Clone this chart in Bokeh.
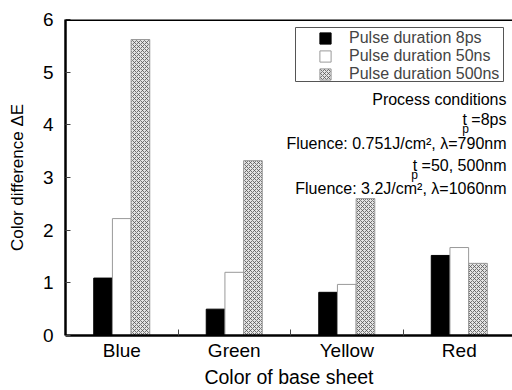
from bokeh.plotting import figure
from bokeh.models import Range1d, FixedTicker, Span, Label, Legend, LegendItem, BoxAnnotation
from bokeh.embed import file_html
from bokeh.resources import INLINE

categories = ["Blue", "Green", "Yellow", "Red"]
series_names = ["Pulse duration 8ps", "Pulse duration 50ns", "Pulse duration 500ns"]
v_8ps = [1.09, 0.50, 0.82, 1.52]
v_50ns = [2.22, 1.20, 0.97, 1.67]
v_500ns = [5.62, 3.32, 2.60, 1.37]
y_ticks = [0, 1, 2, 3, 4, 5, 6]

FONT = "Liberation Sans"
FS = "16px"
TICK_FS = "19px"

p = figure(width=512, height=390, output_backend="svg", toolbar_location=None,
           x_range=Range1d(0, 3.973), y_range=Range1d(0, 6),
           min_border_left=65, min_border_right=0, min_border_top=19, min_border_bottom=53)
p.outline_line_color = None
p.grid.visible = False
p.background_fill_color = "white"

centers = [i + 0.5 for i in range(len(categories))]
bw = 0.166
styles = [
    dict(fill_color="black", line_color="black"),
    dict(fill_color="white", line_color="#999999"),
    dict(fill_color="#e4e4e4", line_color="#9a9a9a", hatch_pattern="x", hatch_color="#555555",
         hatch_scale=4, hatch_weight=0.8),
]
renderers = []
for k, vals in enumerate([v_8ps, v_50ns, v_500ns]):
    xs = [c + (k - 1) * bw for c in centers]
    r = p.vbar(x=xs, top=vals, bottom=0, width=bw, line_width=1, **styles[k])
    renderers.append(r)

# axes
xa = p.xaxis[0]
xa.ticker = FixedTicker(ticks=centers, minor_ticks=[1, 2, 3])
xa.major_label_overrides = {c: n for c, n in zip(centers, categories)}
xa.major_tick_in = 0
xa.major_tick_out = 0
xa.minor_tick_in = 6
xa.minor_tick_out = 0
xa.minor_tick_line_color = "#444444"
xa.axis_line_width = 2.5
xa.major_label_text_font = FONT
xa.major_label_text_font_size = TICK_FS
xa.major_label_text_color = "black"
xa.major_label_standoff = 4
xa.axis_label = "Color of base sheet"
xa.axis_label_text_font = FONT
xa.axis_label_text_font_size = "19.5px"
xa.axis_label_text_font_style = "normal"
xa.axis_label_text_color = "black"
xa.axis_label_standoff = 2

ya = p.yaxis[0]
ya.ticker = FixedTicker(ticks=y_ticks, minor_ticks=[])
ya.major_tick_in = 5
ya.major_tick_out = 0
ya.major_tick_line_color = "#444444"
ya.axis_line_width = 2.5
ya.major_label_text_font = FONT
ya.major_label_text_font_size = TICK_FS
ya.major_label_text_color = "black"
ya.major_label_standoff = 12
ya.axis_label = "Color difference \u0394E"
ya.axis_label_text_font = FONT
ya.axis_label_text_font_size = "17px"
ya.axis_label_text_font_style = "normal"
ya.axis_label_text_color = "black"
ya.axis_label_standoff = 13

p.add_layout(Span(location=6, dimension="width", line_color="black", line_width=3))

# legend box
p.add_layout(BoxAnnotation(left=230, right=438, bottom=337 - 83, top=337 - 29,
                           left_units="screen", right_units="screen",
                           bottom_units="screen", top_units="screen",
                           fill_color="white", fill_alpha=1, line_color="#555555",
                           line_width=1, line_alpha=1))

legend = Legend(items=[LegendItem(label=n, renderers=[r]) for n, r in zip(series_names, renderers)],
                location=(253, 252))
legend.label_text_font = FONT
legend.label_text_font_size = FS
legend.label_height = 18
legend.glyph_height = 14
legend.glyph_width = 14
legend.spacing = 0
legend.padding = 0
legend.margin = 0
legend.label_standoff = 17
legend.border_line_color = None
legend.background_fill_alpha = 0
p.add_layout(legend, "center")

notes = [
    ("Process conditions", 101),
    ("t =8ps", 121),
    ("Fluence: 0.751J/cm\u00b2, \u03bb=790nm", 145),
    ("t =50, 500nm", 167),
    ("Fluence: 3.2J/cm\u00b2, \u03bb=1060nm", 190),
]
for txt, ypix in notes:
    p.add_layout(Label(x=441, y=337 - ypix, x_units="screen", y_units="screen", text=txt,
                       text_align="right", text_baseline="middle", text_font=FONT,
                       text_font_size=FS, text_color="black"))
# misplaced subscripts p under "t"
for xpix, ypix in [(465, 130), (414, 176)]:
    p.add_layout(Label(x=xpix - 65, y=337 - ypix, x_units="screen", y_units="screen", text="p",
                       text_align="center", text_baseline="middle", text_font=FONT,
                       text_font_size="12px", text_color="black"))

with open("out.html", "w") as f:
    f.write(file_html(p, INLINE))
